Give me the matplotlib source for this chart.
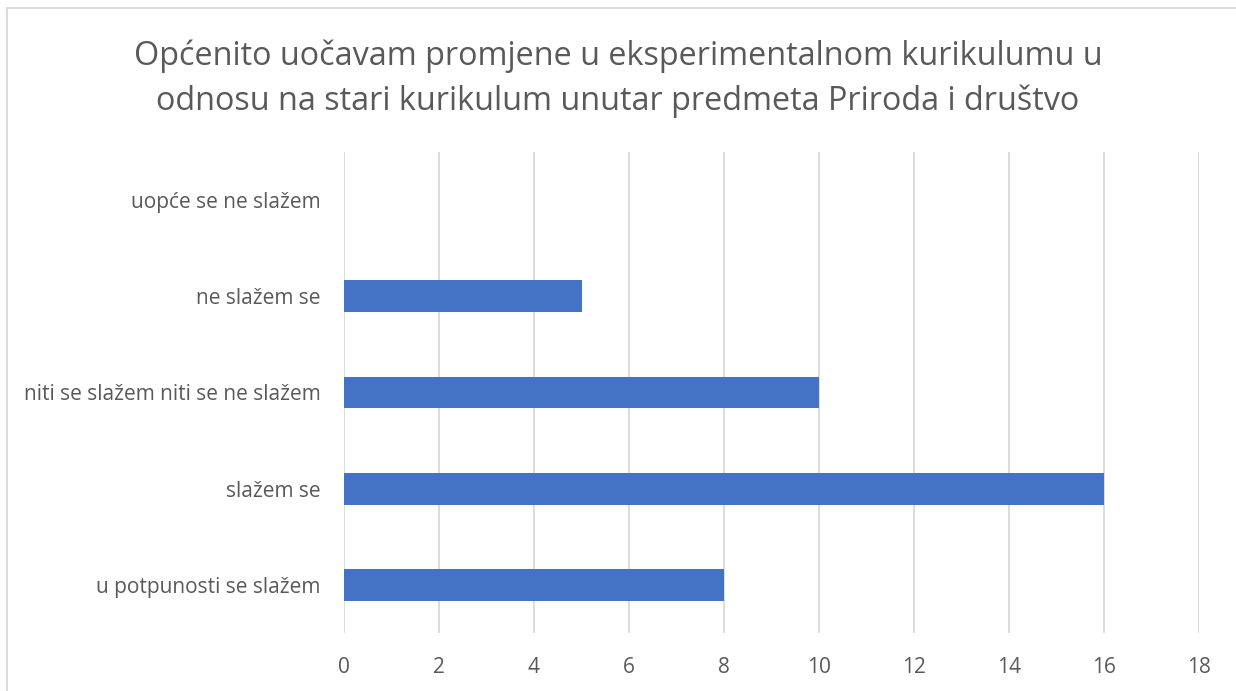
import matplotlib
matplotlib.use("Agg")
import matplotlib.pyplot as plt
from matplotlib.lines import Line2D

categories = ["u potpunosti se slažem", "slažem se", "niti se slažem niti se ne slažem",
              "ne slažem se", "uopće se ne slažem"]
values = [8, 16, 10, 5, 0]
xticks = [0, 2, 4, 6, 8, 10, 12, 14, 16, 18]
title = "Općenito uočavam promjene u eksperimentalnom kurikulumu u\nodnosu na stari kurikulum unutar predmeta Priroda i društvo"

plt.rcParams['font.family'] = ['Open Sans', 'DejaVu Sans']
W, H = 1236, 691
fig = plt.figure(figsize=(W/100, H/100), dpi=100)
ax = fig.add_axes([344/W, 1-633/H, (1199-344)/W, (633-152)/H])

ax.barh(range(len(categories)), values, height=0.33, color="#4472C4", zorder=3)
ax.set_ylim(-0.5, len(categories)-0.5)
ax.set_xlim(0, 18)
ax.set_xticks(xticks)
ax.set_yticks(range(len(categories)))
ax.set_yticklabels(categories)
ax.xaxis.grid(True, color="#D9D9D9", linewidth=1.3, zorder=0)
for s in ax.spines.values():
    s.set_visible(False)
ax.tick_params(axis='both', length=0, colors="#595959", labelsize=15)
ax.tick_params(axis='x', pad=17)
ax.tick_params(axis='y', pad=17)

fig.text(0.5, 1-79/H, title, ha='center', va='center', fontsize=23.3, color="#595959",
         linespacing=1.45)

fig.add_artist(Line2D([7/W, 7/W], [0, 1-8/H], color="#D9D9D9", linewidth=1.3))
fig.add_artist(Line2D([7/W, 1], [1-8/H, 1-8/H], color="#D9D9D9", linewidth=1.3))

fig.savefig("out.png", dpi=100, facecolor="white")
